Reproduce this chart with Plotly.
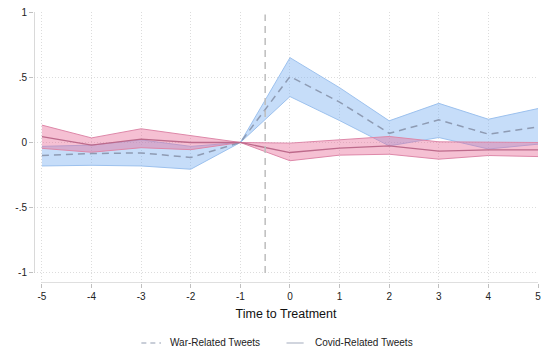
import plotly.graph_objects as go

# Event time relative to treatment
periods = [-5, -4, -3, -2, -1, 0, 1, 2, 3, 4, 5]

# War-related tweets: point estimates and 95% CI bounds
war_est = [-0.10, -0.085, -0.08, -0.115, 0.0, 0.505, 0.31, 0.07, 0.173, 0.064, 0.12]
war_hi = [-0.03, -0.02, 0.02, -0.03, 0.0, 0.65, 0.42, 0.166, 0.30, 0.178, 0.26]
war_lo = [-0.18, -0.175, -0.18, -0.205, 0.0, 0.352, 0.168, -0.026, 0.038, -0.05, -0.013]

# Covid-related tweets: point estimates and 95% CI bounds
covid_est = [0.045, -0.02, 0.025, 0.0, 0.0, -0.077, -0.044, -0.026, -0.066, -0.056, -0.056]
covid_hi = [0.133, 0.035, 0.105, 0.05, 0.0, -0.005, 0.02, 0.046, 0.005, 0.0, 0.0]
covid_lo = [-0.045, -0.075, -0.04, -0.055, 0.0, -0.14, -0.097, -0.09, -0.128, -0.10, -0.108]

x_ticks = [-5, -4, -3, -2, -1, 0, 1, 2, 3, 4, 5]
x_labels = ["-5", "-4", "-3", "-2", "-1", "0", "1", "2", "3", "4", "5"]
y_ticks = [-1, -0.5, 0, 0.5, 1]
y_labels = ["-1", "-.5", "0", ".5", "1"]

treatment_line = -0.5
legend_names = ["War-Related Tweets", "Covid-Related Tweets"]

BLUE_EDGE = "#9cc1ee"
BLUE_FILL = "rgba(120,175,240,0.42)"
PINK_EDGE = "#de88a9"
PINK_FILL = "rgba(230,105,150,0.42)"
WAR_LINE = "#8e9bb3"
COVID_LINE = "#bd6a8b"
GRID = "#dcdcdc"
FONT = "Liberation Sans, Arial, sans-serif"

fig = go.Figure()


def add_band(lo, hi, edge, fill):
    fig.add_trace(go.Scatter(x=periods, y=lo, mode="lines",
                             line=dict(color=edge, width=1),
                             showlegend=False, hoverinfo="skip"))
    fig.add_trace(go.Scatter(x=periods, y=hi, mode="lines", fill="tonexty",
                             fillcolor=fill, line=dict(color=edge, width=1),
                             showlegend=False, hoverinfo="skip"))


add_band(war_lo, war_hi, BLUE_EDGE, BLUE_FILL)
add_band(covid_lo, covid_hi, PINK_EDGE, PINK_FILL)

fig.add_trace(go.Scatter(x=periods, y=war_est, mode="lines",
                         line=dict(color=WAR_LINE, width=1.5, dash="7px,5px"),
                         showlegend=False, name=legend_names[0]))
fig.add_trace(go.Scatter(x=periods, y=covid_est, mode="lines",
                         line=dict(color=COVID_LINE, width=1.3),
                         showlegend=False, name=legend_names[1]))

# Treatment marker
fig.add_shape(type="line", xref="x", yref="y",
              x0=treatment_line, x1=treatment_line, y0=-1, y1=0.98,
              line=dict(color="#bdbdbd", width=1.5, dash="7px,5px"))

# Detached axis lines
x_min, x_max = -5.16, 5.0
y_min, y_max = -1.077, 1.0
fig.add_shape(type="line", xref="x", yref="y", x0=x_min, x1=x_min, y0=-1, y1=1,
              line=dict(color="#bfbfbf", width=1.2))
fig.add_shape(type="line", xref="x", yref="y", x0=-5, x1=5, y0=y_min, y1=y_min,
              line=dict(color="#bfbfbf", width=1.2))

# Legend drawn below the axis title
legend_y = -0.2214
fig.add_shape(type="line", xref="paper", yref="paper", x0=0.213, x1=0.252,
              y0=legend_y, y1=legend_y,
              line=dict(color="#b8bfcc", width=1.3, dash="5px,4px"))
fig.add_shape(type="line", xref="paper", yref="paper", x0=0.501, x1=0.535,
              y0=legend_y, y1=legend_y,
              line=dict(color="#b8bfcc", width=1.3))
fig.add_annotation(text=legend_names[0], xref="paper", yref="paper",
                   x=0.266, y=legend_y, xanchor="left", yanchor="middle",
                   showarrow=False, font=dict(family=FONT, size=10, color="#222"))
fig.add_annotation(text=legend_names[1], xref="paper", yref="paper",
                   x=0.554, y=legend_y, xanchor="left", yanchor="middle",
                   showarrow=False, font=dict(family=FONT, size=10, color="#222"))

fig.update_layout(
    width=545, height=355, autosize=False,
    margin=dict(l=34, r=4, t=12, b=72),
    paper_bgcolor="white", plot_bgcolor="white",
    font=dict(family=FONT, size=10, color="#222"),
    showlegend=False,
)
fig.update_xaxes(
    range=[x_min, x_max], tickvals=x_ticks, ticktext=x_labels,
    showline=False, zeroline=False,
    showgrid=True, gridcolor=GRID, griddash="1px,2px", gridwidth=1,
    ticks="outside", ticklen=4, tickcolor="#bfbfbf",
    tickfont=dict(size=10, color="#222"),
    title=dict(text="Time to Treatment", font=dict(size=12.5, color="#111"),
               standoff=8),
)
fig.update_yaxes(
    range=[y_min, y_max], tickvals=y_ticks, ticktext=y_labels,
    showline=False, zeroline=False,
    showgrid=True, gridcolor=GRID, griddash="1px,2px", gridwidth=1,
    ticks="outside", ticklen=4, tickcolor="#bfbfbf",
    tickfont=dict(size=10, color="#222"),
)

fig.write_html("out.html")
